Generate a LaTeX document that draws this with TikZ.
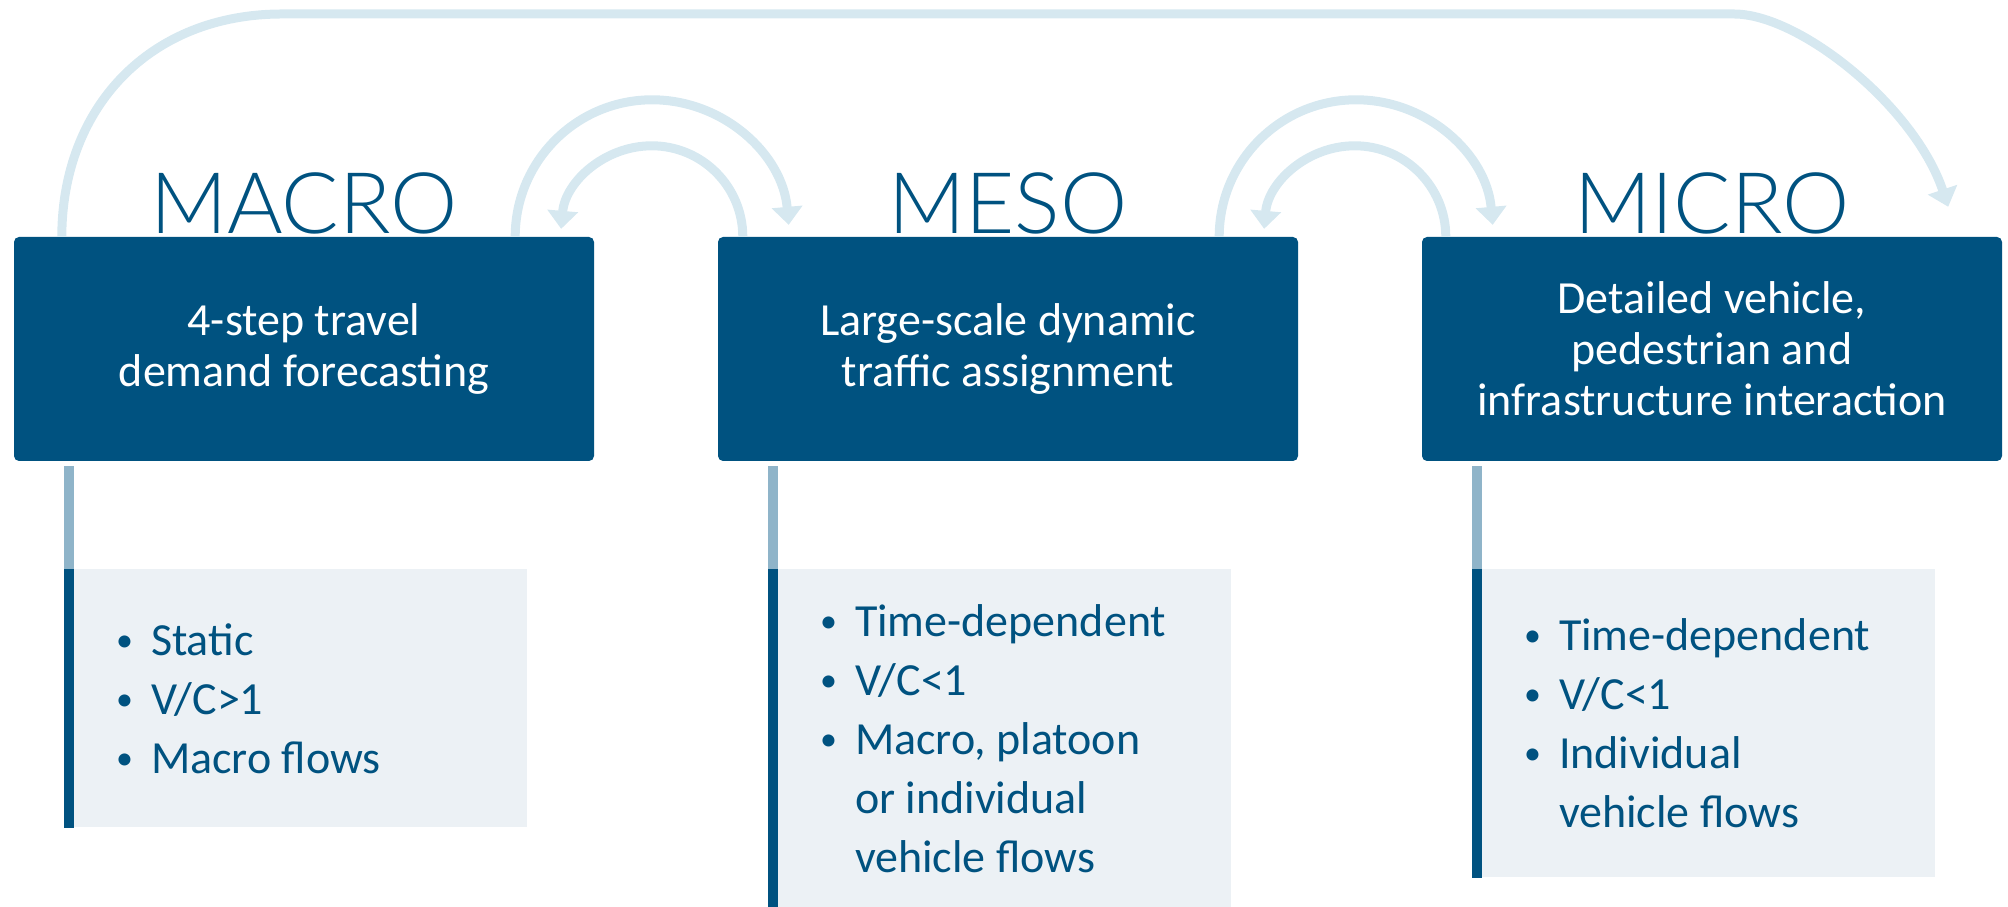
\documentclass[tikz,border=0pt]{standalone}
\usepackage{fontspec}
\setmainfont{Carlito}
\newfontfamily\titlefont{Lato}[UprightFont={* Light}]
\usetikzlibrary{arrows.meta, positioning}

\definecolor{levelblue}{RGB}{0,82,128}
\definecolor{loopblue}{RGB}{214,232,240}
\definecolor{infogrey}{RGB}{236,241,245}
\definecolor{stemblue}{RGB}{143,180,201}

\newcommand{\itm}{\makebox[35pt][l]{\raisebox{4pt}{\fontsize{34}{34}\selectfont\textbullet}}}
\newcommand{\cont}{\hspace*{35pt}}

\tikzset{
  levelbox/.style = {rectangle, rounded corners=5pt, fill=levelblue, text=white,
    minimum width=580pt, minimum height=224pt, align=center,
    font=\fontsize{46}{51}\selectfont},
  leveltitle/.style = {text=levelblue, anchor=base, inner sep=0pt,
    font=\titlefont\fontsize{85}{90}\selectfont},
  infobox/.style = {rectangle, fill=infogrey, text=levelblue, minimum width=453pt,
    text width=369pt, inner xsep=42pt, align=flush left,
    font=\fontsize{46}{59}\selectfont},
  looparrow/.style = {draw=loopblue, line width=9pt,
    -{Triangle[width=30pt, length=18pt]}},
  stemlight/.style = {draw=stemblue, line width=10pt},
  stemdark/.style = {draw=levelblue, line width=10pt}
}

\begin{document}
\begin{tikzpicture}[x=1pt, y=1pt, node distance=704pt, on grid]
\useasboundingbox (0,0) rectangle (2008,907);

% the three levels
\node (macro) [levelbox] at (304,558) {4-step travel\\demand forecasting};
\node (meso) [levelbox, right=of macro] {Large-scale dynamic\\traffic assignment};
\node (micro) [levelbox, right=of meso] {Detailed vehicle,\\pedestrian and\\infrastructure interaction};

\node (macrotitle) [leveltitle] at ([yshift=3pt]macro.north) {MACRO};
\node (mesotitle) [leveltitle] at ([yshift=3pt]meso.north) {MESO};
\node (microtitle) [leveltitle] at ([yshift=3pt]micro.north) {MICRO};

% properties
\node (macroinfo) [infobox, minimum height=258pt,
  below right=108pt and 60pt of macro.south west, anchor=north west]
  {\itm Static\\ \itm V/C>1\\ \itm Macro flows};
\node (mesoinfo) [infobox, minimum height=338pt,
  below right=108pt and 60pt of meso.south west, anchor=north west]
  {\itm Time-dependent\\ \itm V/C<1\\ \itm Macro, platoon\\ \cont or individual\\ \cont vehicle flows};
\node (microinfo) [infobox, minimum height=308pt,
  below right=108pt and 60pt of micro.south west, anchor=north west]
  {\itm Time-dependent\\ \itm V/C<1\\ \itm Individual\\ \cont vehicle flows};

\foreach \lvl in {macro, meso, micro} {
  \draw [stemlight] ([xshift=-5pt]\lvl info.north west) -- ([xshift=-5pt, yshift=103pt]\lvl info.north west);
  \draw [stemdark] ([xshift=-5pt]\lvl info.north west) -- ([xshift=-5pt]\lvl info.south west);
}

% feedback between neighbours
\draw [looparrow] ([xshift=-79pt]macro.north east) arc [start angle=180, end angle=5, radius=137pt];
\draw [looparrow] ([xshift=25pt]meso.north west) arc [start angle=0, end angle=175, radius=91pt];
\draw [looparrow] ([xshift=-79pt]meso.north east) arc [start angle=180, end angle=5, radius=137pt];
\draw [looparrow] ([xshift=24pt]micro.north west) arc [start angle=0, end angle=175, radius=91pt];

% macro straight to micro
\coordinate (bigleft) at (282,893);
\coordinate (bigright) at (1734,893);
\draw [looparrow] ([xshift=48pt]macro.north west) .. controls (62,800) and (150,893) .. (bigleft)
  -- (bigright) .. controls (1800,893) and (1915,800) .. ([xshift=-54pt, yshift=30pt]micro.north east);
\end{tikzpicture}
\end{document}
